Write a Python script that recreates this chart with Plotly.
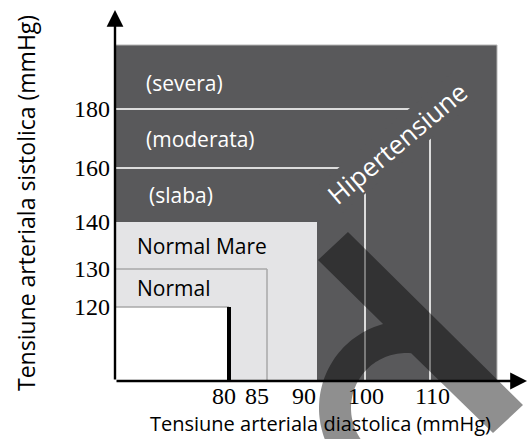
import numpy as np
import plotly.graph_objects as go

# ---------------- data ----------------
categories = ["Normal", "Normal Mare", "(slaba)", "(moderata)", "(severa)"]
systolic = [120, 130, 140, 160, 180]      # mmHg, upper bound of each class
diastolic = [80, 85, 90, 100, 110]        # mmHg, upper bound of each class
y_tick_labels = ["120", "130", "140", "160", "180"]
x_tick_labels = ["80", "85", "90", "100", "110"]
overall_label = "Hipertensiune"
x_title = "Tensiune arteriala diastolica (mmHg)"
y_title = "Tensiune arteriala sistolica (mmHg)"

# ---------------- schematic (non-linear) axis scales ----------------
X_SCALE_MMHG = [60, 80, 85, 90, 100, 110, 120]
X_SCALE_POS = [0, 114, 152, 202, 250, 315, 382]
Y_SCALE_MMHG = [100, 120, 130, 140, 160, 180, 200]
Y_SCALE_POS = [0, 74, 112, 159, 213, 272, 336]


def sx(v):
    return float(np.interp(v, X_SCALE_MMHG, X_SCALE_POS))


def sy(v):
    return float(np.interp(v, Y_SCALE_MMHG, Y_SCALE_POS))


W, H = 528, 439
ML, MR, MT, MB = 115, 1, 10, 58
XR = W - ML - MR
YR = H - MT - MB

DARK = "#59595b"
LIGHT = "#e4e4e6"
SANS = "Open Sans"
SERIF = "Liberation Serif"

fig = go.Figure()
fig.add_trace(go.Scatter(x=[0], y=[0], mode="markers", marker=dict(opacity=0),
                         hoverinfo="skip"))

shapes = []
x0, y0 = sx(X_SCALE_MMHG[0]), sy(Y_SCALE_MMHG[0])
# hypertension area
shapes.append(dict(type="rect", xref="x", yref="y", x0=x0, y0=y0,
                   x1=sx(X_SCALE_MMHG[-1]), y1=sy(Y_SCALE_MMHG[-1]),
                   fillcolor=DARK, line=dict(color="#b5b5b5", width=1)))
# normal-high area
shapes.append(dict(type="rect", xref="x", yref="y", x0=x0, y0=y0,
                   x1=sx(diastolic[2]), y1=sy(systolic[2]),
                   fillcolor=LIGHT, line=dict(width=0)))
# optimal area
shapes.append(dict(type="rect", xref="x", yref="y", x0=x0, y0=y0,
                   x1=sx(diastolic[0]), y1=sy(systolic[0]),
                   fillcolor="white", line=dict(width=0)))

line_styles = {0: ("#a9a9a9", 1.5), 1: ("#a9a9a9", 1.5),
               3: ("#dcdcdc", 2), 4: ("#dcdcdc", 2)}
for i, (s, d) in enumerate(zip(systolic, diastolic)):
    if i not in line_styles:
        continue
    col, wd = line_styles[i]
    shapes.append(dict(type="line", xref="x", yref="y", x0=x0, x1=sx(d),
                       y0=sy(s), y1=sy(s), line=dict(color=col, width=wd)))
    if i == 0:
        shapes.append(dict(type="line", xref="x", yref="y", x0=sx(d), x1=sx(d),
                           y0=y0, y1=sy(s), line=dict(color="black", width=4)))
    else:
        shapes.append(dict(type="line", xref="x", yref="y", x0=sx(d), x1=sx(d),
                           y0=y0, y1=sy(s), line=dict(color=col, width=wd)))


# decorative watermark overlay (pixel geometry of the image, not data)
def pp(px, py):
    return (px - ML) / XR, (H - MB - py) / YR


cx, cy = 406.0, 408.0
r_in, r_out = 55.0, 87.0
pts = [(318, 260), (348, 232), (523, 405), (493, 433)]
for phi in np.linspace(np.radians(-84.6), np.radians(-228), 60):
    pts.append((cx + r_in * np.cos(phi), cy + r_in * np.sin(phi)))
for phi in np.linspace(np.radians(-228), np.radians(-105.3), 60):
    pts.append((cx + r_out * np.cos(phi), cy + r_out * np.sin(phi)))
path = "M " + " L ".join("%.4f,%.4f" % pp(a, b) for a, b in pts) + " Z"
shapes.append(dict(type="path", xref="paper", yref="paper", path=path,
                   fillcolor="rgba(0,0,0,0.44)", line=dict(width=0), layer="above"))

annotations = []
# axis arrows
annotations.append(dict(x=XR, y=0, ax=0, ay=0, xref="x", yref="y", axref="x", ayref="y",
                        text="", showarrow=True, arrowhead=2, arrowsize=1.4,
                        arrowwidth=2.4, arrowcolor="black", standoff=0, startstandoff=0))
annotations.append(dict(x=0, y=YR, ax=0, ay=0, xref="x", yref="y", axref="x", ayref="y",
                        text="", showarrow=True, arrowhead=2, arrowsize=1.4,
                        arrowwidth=2.4, arrowcolor="black", standoff=0, startstandoff=0))

# x tick labels (paper refs so they are drawn outside the plotting area)
x_label_shift = [-5, -10, -13, 1, 2]
for d, t, sh in zip(diastolic, x_tick_labels, x_label_shift):
    annotations.append(dict(x=sx(d) / XR, y=-15 / YR, xref="paper", yref="paper", text=t,
                            showarrow=False, xshift=sh, xanchor="center", yanchor="middle",
                            font=dict(family=SERIF, size=24, color="black")))

# class labels
bounds = systolic + [Y_SCALE_MMHG[-1]]
label_x = [20, 20, 32, 29, 29]
label_col = ["black", "black", "white", "white", "white"]
label_shift = [0, 0, 0, 0, -6]
for i, name in enumerate(categories):
    ym = (sy(bounds[i]) + sy(bounds[i + 1])) / 2
    annotations.append(dict(x=label_x[i], y=ym, xref="x", yref="y", text=name,
                            showarrow=False, xanchor="left", yanchor="middle",
                            yshift=label_shift[i],
                            font=dict(family=SANS, size=21, color=label_col[i])))

annotations.append(dict(x=282, y=238, xref="x", yref="y", text=overall_label,
                        showarrow=False, textangle=-40, bgcolor=DARK, borderpad=0,
                        xanchor="center", yanchor="middle",
                        font=dict(family=SANS, size=26, color="white")))

annotations.append(dict(x=205 / XR, y=-42 / YR, xref="paper", yref="paper", text=x_title,
                        showarrow=False, xanchor="center", yanchor="middle",
                        font=dict(family=SANS, size=20, color="black")))
annotations.append(dict(x=-89 / XR, y=178 / YR, xref="paper", yref="paper", text=y_title,
                        showarrow=False, textangle=-90, xanchor="center", yanchor="middle",
                        font=dict(family=SANS, size=23, color="black")))

fig.update_layout(
    width=W, height=H, margin=dict(l=ML, r=MR, t=MT, b=MB),
    paper_bgcolor="white", plot_bgcolor="white", showlegend=False,
    shapes=shapes, annotations=annotations,
    xaxis=dict(range=[0, XR], showgrid=False, zeroline=False, showticklabels=False,
               showline=False, ticks=""),
    yaxis=dict(range=[0, YR], showgrid=False, zeroline=False, showline=False, ticks="",
               automargin=False, ticklabelstandoff=4,
               tickvals=[sy(v) for v in systolic], ticktext=y_tick_labels,
               tickfont=dict(family=SERIF, size=24, color="black")),
)

fig.write_html("out.html", config={"displayModeBar": False},
               post_script="document.body.style.margin='0';")
